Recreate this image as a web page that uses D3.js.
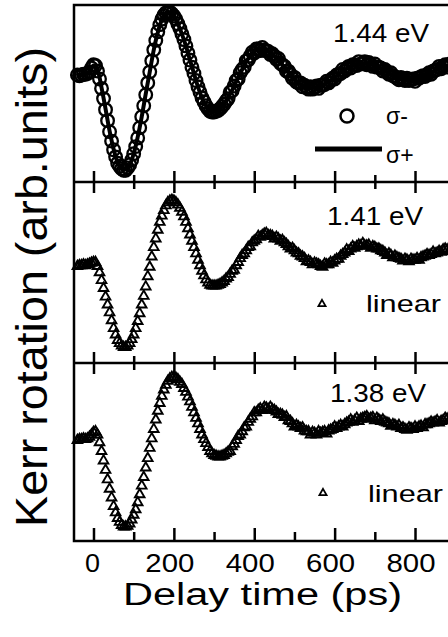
<!DOCTYPE html>
<html>
<head>
<meta charset="utf-8">
<script src="https://d3js.org/d3.v7.min.js"></script>
<style>
  body { margin:0; padding:0; background:#fff; }
  svg { display:block; font-family:"Liberation Sans", Arial, sans-serif; }
  .tick line { stroke:#000; stroke-width:2.5; }
</style>
</head>
<body>
<svg id="chart" width="448" height="637"></svg>
<script>
// delay times (ps) of the measured points
var markerTimes = [-40,-35,-30,-25,-20,-15,-10,-5,0,5,10,15,20,25,30,35,40,45,50,55,60,65,70,75,80,85,90,95,
  100,105,110,115,120,125,130,135,140,145,150,155,160,165,170,175,180,185,190,195,
  200,205,210,215,220,225,230,235,240,245,250,255,260,265,270,275,280,285,290,295,
  300,305,310,315,320,325,330,335,340,345,350,355,360,365,370,375,380,385,390,395,
  400,405,410,415,420,425,430,435,440,445,450,455,460,465,470,475,480,485,490,495,
  500,505,510,515,520,525,530,535,540,545,550,555,560,565,570,575,580,585,590,595,
  600,605,610,615,620,625,630,635,640,645,650,655,660,665,670,675,680,685,690,695,
  700,705,710,715,720,725,730,735,740,745,750,755,760,765,770,775,780,785,790,795,
  800,805,810,815,820,825,830,835,840,845,850,855,860,865,870,875,880,885,890];

// times of the sigma+ trace
var lineTimes = [-40,-30,-20,-10,0,10,20,30,40,50,60,70,80,90,100,110,120,130,140,150,160,170,180,190,200,
  210,220,230,240,250,260,270,280,290,300,310,320,330,340,350,360,370,380,390,400,410,420,430,440,450,460,470,
  480,490,500,510,520,530,540,550,560,570,580,590,600,610,620,630,640,650,660,670,680,690,700,710,720,730,740,
  750,760,770,780,790,800,810,820,830,840,850,860,870,880,890];

// 1.44 eV, sigma- (circles)
var sigmaMinus = [0.01,0.00,0.01,0.02,0.02,0.03,0.05,0.10,0.14,0.13,0.06,-0.04,-0.16,-0.29,-0.43,-0.57,-0.71,-0.83,
  -0.94,-1.03,-1.11,-1.15,-1.18,-1.20,-1.20,-1.17,-1.13,-1.07,-0.99,-0.90,-0.79,-0.66,-0.52,-0.38,-0.24,-0.09,
  0.05,0.19,0.33,0.45,0.56,0.65,0.72,0.77,0.80,0.81,0.81,0.79,0.76,0.72,0.66,0.60,0.53,0.46,0.38,0.29,0.20,0.11,
  0.03,-0.06,-0.14,-0.21,-0.28,-0.33,-0.38,-0.42,-0.45,-0.46,-0.46,-0.45,-0.44,-0.42,-0.39,-0.36,-0.32,
  -0.29,-0.21,-0.19,-0.13,-0.06,-0.04,0.04,0.08,0.11,0.19,0.20,0.25,0.30,0.29,
  0.34,0.34,0.32,0.36,0.33,0.32,0.31,0.27,0.28,0.25,0.21,0.22,0.16,0.14,0.12,0.06,0.06,0.02,-0.03,-0.02,
  -0.08,-0.09,-0.09,-0.14,-0.12,-0.15,-0.17,-0.14,-0.17,-0.15,-0.13,-0.16,-0.12,-0.12,-0.11,-0.07,-0.09,-0.06,-0.03,-0.04,
  0.01,0.02,0.03,0.08,0.06,0.09,0.12,0.10,0.14,0.14,0.13,0.18,0.15,0.16,0.18,0.14,0.17,0.15,0.12,0.15,
  0.11,0.11,0.10,0.06,0.08,0.05,0.02,0.04,0.00,-0.01,-0.03,-0.05,-0.02,-0.04,-0.06,-0.03,-0.06,-0.05,-0.04,-0.07,
  -0.03,-0.03,-0.01,0.00,-0.01,0.01,0.04,0.02,0.06,0.07,0.08,0.12,0.09,0.12,0.14,0.11,0.15,0.14];

// 1.44 eV, sigma+ (solid line)
var sigmaPlus = [0.01,0.01,0.02,0.05,0.13,0.07,-0.15,-0.42,-0.70,-0.93,-1.10,-1.18,-1.19,-1.13,-0.99,-0.78,-0.52,
  -0.23,0.05,0.33,0.55,0.71,0.79,0.80,0.76,0.66,0.53,0.38,0.20,0.03,-0.14,-0.28,-0.38,-0.44,-0.46,-0.44,-0.39,
  -0.32,-0.23,-0.13,-0.02,0.08,0.18,0.25,0.31,0.34,0.34,0.32,0.29,0.25,0.20,0.14,0.08,0.02,-0.04,-0.09,-0.12,
  -0.15,-0.16,-0.15,-0.14,-0.12,-0.09,-0.06,-0.02,0.02,0.06,0.09,0.12,0.14,0.16,0.16,0.16,0.15,0.13,0.11,0.08,
  0.05,0.02,-0.01,-0.03,-0.04,-0.05,-0.05,-0.05,-0.03,-0.02,0.01,0.04,0.07,0.10,0.12,0.13,0.14];

// 1.41 eV, linear (triangles)
var linear141 = [-0.02,-0.01,-0.01,0.00,-0.01,0.00,0.01,0.02,0.03,0.03,-0.02,-0.10,-0.20,-0.30,-0.41,-0.51,-0.61,
  -0.71,-0.81,-0.89,-0.96,-1.00,-1.03,-1.05,-1.05,-1.03,-1.00,-0.95,-0.89,-0.81,-0.72,-0.62,-0.51,-0.40,-0.28,
  -0.15,-0.03,0.10,0.22,0.33,0.44,0.54,0.62,0.69,0.75,0.79,0.81,0.82,0.81,0.79,0.76,0.72,0.67,0.61,0.54,0.46,
  0.38,0.30,0.22,0.14,0.06,-0.01,-0.08,-0.14,-0.19,-0.23,-0.26,-0.27,-0.27,-0.27,-0.26,-0.25,-0.23,-0.21,-0.18,
  -0.16,-0.12,-0.08,-0.07,-0.01,0.03,0.08,0.12,0.14,0.18,0.22,0.23,0.28,0.30,
  0.32,0.36,0.35,0.37,0.39,0.40,0.37,0.37,0.36,0.33,0.35,0.33,0.30,0.31,0.28,0.26,0.23,0.20,0.21,0.18,
  0.15,0.14,0.11,0.10,0.08,0.04,0.05,0.03,0.00,0.02,0.01,0.00,-0.02,-0.03,0.01,0.00,0.00,0.03,0.02,0.05,
  0.07,0.07,0.11,0.13,0.15,0.19,0.17,0.20,0.23,0.21,0.23,0.25,0.24,0.27,0.24,0.24,0.25,0.21,0.23,0.22,
  0.20,0.20,0.18,0.17,0.15,0.12,0.14,0.12,0.09,0.11,0.09,0.08,0.07,0.05,0.07,0.06,0.04,0.07,0.06,0.06,
  0.08,0.06,0.09,0.10,0.11,0.13,0.12,0.13,0.16,0.14,0.15,0.17,0.16,0.19,0.20,0.19,0.17,0.18];

// 1.38 eV, linear (triangles)
var linear138 = [-0.02,-0.01,-0.01,0.00,-0.01,0.00,0.02,0.05,0.08,0.09,0.05,-0.05,-0.16,-0.28,-0.40,-0.52,-0.64,
  -0.75,-0.86,-0.94,-1.01,-1.06,-1.10,-1.12,-1.12,-1.11,-1.08,-1.03,-0.97,-0.90,-0.81,-0.71,-0.60,-0.49,-0.37,
  -0.25,-0.12,0.00,0.12,0.24,0.35,0.45,0.54,0.62,0.68,0.73,0.76,0.78,0.78,0.77,0.75,0.72,0.69,0.64,0.59,0.53,
  0.47,0.40,0.33,0.26,0.19,0.12,0.05,-0.01,-0.06,-0.11,-0.16,-0.19,-0.21,-0.22,-0.23,-0.23,-0.22,-0.21,-0.19,
  -0.17,-0.16,-0.10,-0.07,-0.02,0.03,0.05,0.09,0.14,0.15,0.21,0.25,0.28,0.33,
  0.33,0.36,0.38,0.36,0.40,0.39,0.37,0.40,0.37,0.36,0.34,0.31,0.31,0.30,0.27,0.28,0.23,0.22,0.19,0.15,
  0.17,0.15,0.13,0.14,0.10,0.09,0.09,0.05,0.08,0.07,0.05,0.09,0.07,0.08,0.09,0.06,0.10,0.11,0.12,0.15,
  0.13,0.15,0.17,0.15,0.18,0.20,0.21,0.24,0.21,0.23,0.26,0.22,0.25,0.26,0.27,0.28,0.25,0.26,0.27,0.23,
  0.26,0.24,0.22,0.24,0.21,0.20,0.19,0.16,0.18,0.17,0.15,0.17,0.13,0.14,0.12,0.11,0.14,0.13,0.12,0.15,
  0.13,0.15,0.16,0.14,0.18,0.18,0.19,0.21,0.20,0.21,0.23,0.20,0.22,0.23,0.26,0.25,0.23,0.24];

var majorTicks = [0, 200, 400, 600, 800];
var minorTicks = [100, 300, 500, 700];
var energyLabels = ["1.44 eV", "1.41 eV", "1.38 eV"];

var svg = d3.select("#chart");

var x = d3.scaleLinear().domain([-48.5, 900]).range([74, 455.2]);

var panels = [
  {top: 5,   bottom: 182, dom: [-1.35, 0.9]},
  {top: 182, bottom: 363, dom: [-1.25, 1.05]},
  {top: 363, bottom: 541, dom: [-1.3, 0.96]}
];
panels.forEach(function(p) {
  p.y = d3.scaleLinear().domain(p.dom).range([p.bottom, p.top]);
});

function pts(times, vals) {
  return times.map(function(t, i) { return {t: t, v: vals[i]}; });
}

// panel 1 : sigma+ line and open sigma- circles
var p1 = panels[0];
svg.append("path")
  .datum(pts(lineTimes, sigmaPlus))
  .attr("fill", "none")
  .attr("stroke", "#000")
  .attr("stroke-width", 4)
  .attr("d", d3.line().curve(d3.curveCatmullRom)
    .x(function(d) { return x(d.t); })
    .y(function(d) { return p1.y(d.v); }));

svg.append("g").selectAll("circle")
  .data(pts(markerTimes, sigmaMinus))
  .enter().append("circle")
  .attr("cx", function(d) { return x(d.t); })
  .attr("cy", function(d) { return p1.y(d.v); })
  .attr("r", 6.3)
  .attr("fill", "none")
  .attr("stroke", "#000")
  .attr("stroke-width", 2.3);

// panels 2 and 3 : open triangles
var tri = d3.symbol().type(d3.symbolTriangle).size(40);
[[panels[1], linear141], [panels[2], linear138]].forEach(function(pair) {
  var p = pair[0];
  svg.append("g").selectAll("path")
    .data(pts(markerTimes, pair[1]))
    .enter().append("path")
    .attr("d", tri)
    .attr("transform", function(d) { return "translate(" + x(d.t) + "," + p.y(d.v) + ")"; })
    .attr("fill", "none")
    .attr("stroke", "#000")
    .attr("stroke-width", 1.9);
});

// frame
svg.append("rect")
  .attr("x", 74).attr("y", 5)
  .attr("width", 381).attr("height", 536)
  .attr("fill", "none").attr("stroke", "#000").attr("stroke-width", 2.5);
[182, 363].forEach(function(yy) {
  svg.append("line").attr("x1", 74).attr("x2", 455).attr("y1", yy).attr("y2", yy)
    .attr("stroke", "#000").attr("stroke-width", 2.5);
});

// ticks: both sides of the separators, inward at the bottom
function ticks(axisFn, yy, vals, size) {
  var g = svg.append("g")
    .attr("transform", "translate(0," + yy + ")")
    .call(axisFn(x).tickValues(vals).tickSize(size).tickFormat(""));
  g.select(".domain").remove();
}
[182, 363].forEach(function(yy) {
  ticks(d3.axisTop, yy, majorTicks, 11);
  ticks(d3.axisTop, yy, minorTicks, 7);
  ticks(d3.axisBottom, yy, majorTicks, 11);
  ticks(d3.axisBottom, yy, minorTicks, 7);
});
ticks(d3.axisTop, 541, majorTicks, 13);
ticks(d3.axisTop, 541, minorTicks, 9);

// tick labels
svg.append("g").selectAll("text")
  .data(majorTicks)
  .enter().append("text")
  .attr("x", function(d) { return x(d) - (d === 0 ? 1 : 4); })
  .attr("y", 572)
  .attr("text-anchor", "middle")
  .attr("font-size", 25)
  .attr("textLength", function(d) { return d === 0 ? 15 : 49; })
  .attr("lengthAdjust", "spacingAndGlyphs")
  .text(function(d) { return d; });

// axis titles
svg.append("text")
  .attr("x", 123).attr("y", 605)
  .attr("font-size", 31)
  .attr("textLength", 279).attr("lengthAdjust", "spacingAndGlyphs")
  .text("Delay time (ps)");

svg.append("text")
  .attr("transform", "translate(47,287) rotate(-90)")
  .attr("text-anchor", "middle")
  .attr("font-size", 44)
  .attr("textLength", 480).attr("lengthAdjust", "spacingAndGlyphs")
  .text("Kerr rotation (arb.units)");

// energy labels
var labelPos = [[333, 42], [327, 225], [330, 402]];
energyLabels.forEach(function(s, i) {
  svg.append("text")
    .attr("x", labelPos[i][0]).attr("y", labelPos[i][1])
    .attr("font-size", 25)
    .attr("textLength", 96).attr("lengthAdjust", "spacingAndGlyphs")
    .text(s);
});

// legend panel 1
svg.append("circle").attr("cx", 347).attr("cy", 116).attr("r", 6.5)
  .attr("fill", "none").attr("stroke", "#000").attr("stroke-width", 2.5);
svg.append("text").attr("x", 386).attr("y", 124).attr("font-size", 23).text("σ-");
svg.append("line").attr("x1", 315).attr("x2", 382).attr("y1", 149).attr("y2", 149)
  .attr("stroke", "#000").attr("stroke-width", 5);
svg.append("text").attr("x", 386).attr("y", 163).attr("font-size", 23).text("σ+");

// legend panels 2, 3
var smallTri = d3.symbol().type(d3.symbolTriangle).size(22);
[[322, 304, 366, 312], [323, 493, 368, 502]].forEach(function(l) {
  svg.append("path").attr("d", smallTri)
    .attr("transform", "translate(" + l[0] + "," + l[1] + ")")
    .attr("fill", "none").attr("stroke", "#000").attr("stroke-width", 1.8);
  svg.append("text").attr("x", l[2]).attr("y", l[3])
    .attr("font-size", 24)
    .attr("textLength", 75).attr("lengthAdjust", "spacingAndGlyphs")
    .text("linear");
});
</script>
</body>
</html>
